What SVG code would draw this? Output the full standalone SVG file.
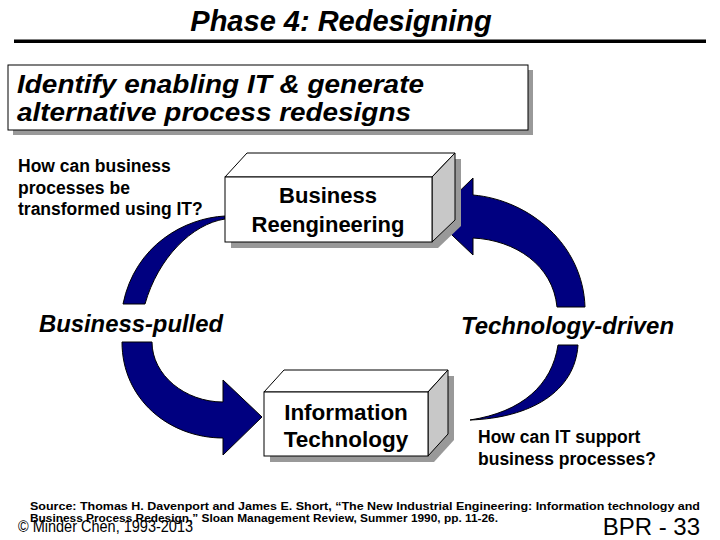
<svg xmlns="http://www.w3.org/2000/svg" width="720" height="540" viewBox="0 0 720 540">
<style>
.t{font-family:"Liberation Sans",Arial,sans-serif;fill:#000}
.bi{font-weight:bold;font-style:italic}
.b{font-weight:bold}
.arr{fill:#000080;stroke:#000;stroke-width:1}
.front{fill:#fff;stroke:#000;stroke-width:1}
.side{fill:#c8c8c8;stroke:#000;stroke-width:1}
.shadow{fill:#999}
</style>
<rect width="720" height="540" fill="#fff"/>
<g id="title">
<text class="t bi" x="341" y="31" font-size="29" text-anchor="middle">Phase 4: Redesigning</text>
<rect x="14" y="39.5" width="692" height="3.5" fill="#000"/>
</g>
<g id="step">
<rect x="13" y="70" width="520" height="65" class="shadow"/>
<rect x="8" y="65" width="520" height="65" class="front"/>
<text class="t bi" x="17" y="93" font-size="25" textLength="407" lengthAdjust="spacingAndGlyphs">Identify enabling IT &amp; generate</text>
<text class="t bi" x="17" y="121" font-size="25" textLength="394" lengthAdjust="spacingAndGlyphs">alternative process redesigns</text>
</g>
<g id="connectors">
<path class="arr" d="M225,216 C185,218 135,245 123,304 L145,304 C158,258 192,224 225,219 Z"/>
<path class="arr" d="M122,342 C122,400 170,438 223,438 L223,455 L262,417 L223,380 L223,402 C185,402 152,375 152,342 Z"/>
<path class="arr" d="M473,195 C530,200 583,245 585,307 L557,307 C553,265 515,240 473,238 L473,255 L433,217 L473,178 Z"/>
<path class="arr" d="M558,345 L578,345 C575,392 530,418 470,420 C522,412 552,385 558,345 Z"/>
</g>
<g id="business-reengineering">
<path class="shadow" d="M231,183 L253,159 L461,159 L461,226 L438,248 L231,248 Z"/>
<path class="front" d="M225,177 L247,153 L455,153 L432,177 Z"/>
<path class="side" d="M432,177 L455,153 L455,220 L432,242 Z"/>
<rect class="front" x="225" y="177" width="207" height="65"/>
<text class="t b" x="328" y="203" font-size="22" text-anchor="middle">Business</text>
<text class="t b" x="328" y="232" font-size="22" text-anchor="middle">Reengineering</text>
</g>
<g id="information-technology">
<path class="shadow" d="M270,398 L290,376 L454,376 L454,440 L434,462 L270,462 Z"/>
<path class="front" d="M264,392 L284,370 L448,370 L428,392 Z"/>
<path class="side" d="M428,392 L448,370 L448,434 L428,456 Z"/>
<rect class="front" x="264" y="392" width="164" height="64"/>
<text class="t b" x="346" y="420" font-size="22.5" text-anchor="middle">Information</text>
<text class="t b" x="346" y="447" font-size="22.5" text-anchor="middle">Technology</text>
</g>
<g id="labels">
<text class="t b" x="18" y="172" font-size="17.5">How can business</text>
<text class="t b" x="18" y="193.5" font-size="17.5">processes be</text>
<text class="t b" x="18" y="215" font-size="17.5">transformed using IT?</text>
<text class="t bi" x="39" y="332" font-size="23" textLength="184" lengthAdjust="spacingAndGlyphs">Business-pulled</text>
<text class="t bi" x="461" y="334" font-size="23" textLength="213" lengthAdjust="spacingAndGlyphs">Technology-driven</text>
<text class="t b" x="478" y="443" font-size="17.5">How can IT support</text>
<text class="t b" x="478" y="465" font-size="17.5">business processes?</text>
</g>
<g id="footer">
<text class="t b" x="30" y="510" font-size="11.5" textLength="670" lengthAdjust="spacingAndGlyphs">Source: Thomas H. Davenport and James E. Short, “The New Industrial Engineering: Information technology and</text>
<text class="t b" x="30" y="522" font-size="11.5" textLength="468" lengthAdjust="spacingAndGlyphs">Business Process Redesign,” Sloan Management Review, Summer 1990, pp. 11-26.</text>
<text class="t" x="18" y="532" font-size="16" textLength="175" lengthAdjust="spacingAndGlyphs">© Minder Chen, 1993-2013</text>
<text class="t" x="700" y="535" font-size="24" text-anchor="end">BPR - 33</text>
</g>
</svg>
